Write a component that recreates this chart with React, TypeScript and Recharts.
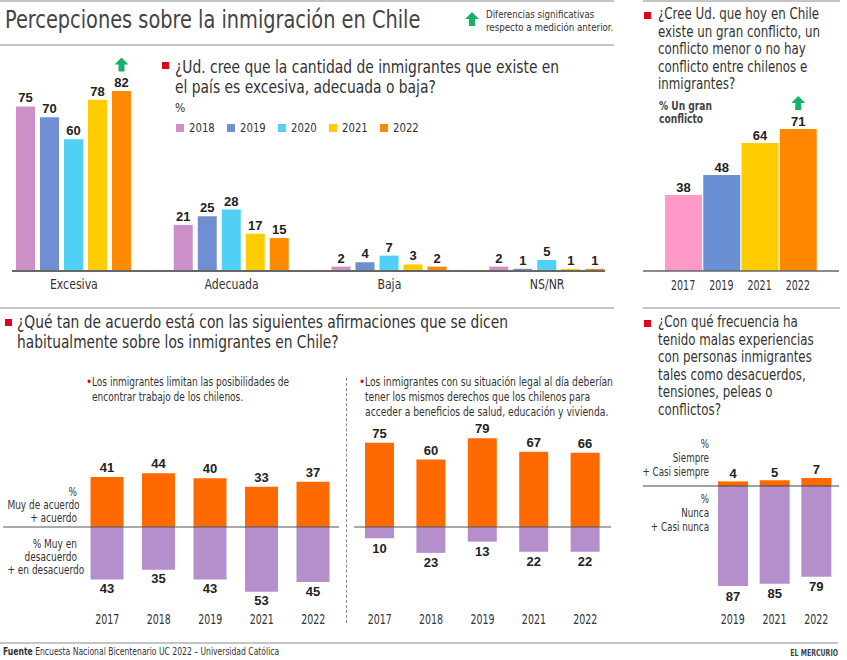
import React from 'react'
import { BarChart, Bar, XAxis, YAxis, Cell, LabelList, ReferenceLine } from 'recharts'

const NARROW = '"Liberation Sans Narrow", "Arial Narrow", "DejaVu Sans Condensed", sans-serif'
const NUM = '"Liberation Sans", Arial, sans-serif'
const RED = '#e3001b'
const GREEN = '#17b26a'
const INK = '#333'

// ¿Ud. cree que la cantidad de inmigrantes ... es excesiva, adecuada o baja?
const amountCategories = ['Excesiva', 'Adecuada', 'Baja', 'NS/NR']
const amountYears = ['2018', '2019', '2020', '2021', '2022']
const amountColors = ['#cc8fc7', '#6f8fd2', '#4fd0f4', '#ffcc00', '#ff8a00']
const amount2018 = [75, 21, 2, 2]
const amount2019 = [70, 25, 4, 1]
const amount2020 = [60, 28, 7, 5]
const amount2021 = [78, 17, 3, 1]
const amount2022 = [82, 15, 2, 1]
const amountSignificant = ['Excesiva'] // flecha verde, 2022

// % Un gran conflicto
const conflictYears = ['2017', '2019', '2021', '2022']
const conflictValues = [38, 48, 64, 71]
const conflictColors = ['#ff9ac8', '#6b8fd4', '#ffcc00', '#ff8800']
const conflictSignificant = ['2022']

// Los inmigrantes limitan las posibilidades de encontrar trabajo
const jobsYears = ['2017', '2018', '2019', '2021', '2022']
const jobsAgree = [41, 44, 40, 33, 37]
const jobsDisagree = [43, 35, 43, 53, 45]

// Mismos derechos con situación legal al día
const rightsYears = ['2017', '2018', '2019', '2021', '2022']
const rightsAgree = [75, 60, 79, 67, 66]
const rightsDisagree = [10, 23, 13, 22, 22]

// Malas experiencias con personas inmigrantes
const badYears = ['2019', '2021', '2022']
const badOften = [4, 5, 7]
const badNever = [87, 85, 79]

const AGREE = '#ff6a00'
const DISAGREE = '#b48fcc'

const amountSeries = [amount2018, amount2019, amount2020, amount2021, amount2022]
const amountData = amountCategories.map((category, i) => {
  const row: Record<string, string | number> = { category }
  amountYears.forEach((y, s) => (row[y] = amountSeries[s][i]))
  return row
})
const conflictData = conflictYears.map((year, i) => ({ year, value: conflictValues[i] }))
const splitData = (years: string[], up: number[], down: number[]) =>
  years.map((year, i) => ({ year, agree: up[i], disagree: -down[i] }))
const jobsData = splitData(jobsYears, jobsAgree, jobsDisagree)
const rightsData = splitData(rightsYears, rightsAgree, rightsDisagree)
const badData = splitData(badYears, badOften, badNever)

function Arrow({ x, y }: { x: number; y: number }) {
  return (
    <path
      d={`M${x},${y - 7} L${x + 7},${y} L${x + 3},${y} L${x + 3},${y + 7} L${x - 3},${y + 7} L${x - 3},${y} L${x - 7},${y} Z`}
      fill={GREEN}
    />
  )
}

// value label above positive bars, below negative ones; optional arrow
function makeLabel(above: number, below: number, flagged?: (i: number) => boolean) {
  return (props: any) => {
    const vb = props.viewBox ?? props
    const x = Number(vb.x ?? props.x)
    const y = Number(vb.y ?? props.y)
    const w = Number(vb.width ?? props.width)
    const h = Number(vb.height ?? props.height)
    const v = Number(props.value)
    const cx = x + w / 2
    const top = Math.min(y, y + h)
    const bottom = Math.max(y, y + h)
    const ty = v >= 0 ? top - above : bottom + below
    return (
      <g>
        <text x={cx} y={ty} textAnchor="middle" fontFamily={NUM} fontWeight={700} fontSize={13} fill="#222">
          {Math.abs(v)}
        </text>
        {flagged && flagged(props.index) ? <Arrow x={cx} y={ty - 22.5} /> : null}
      </g>
    )
  }
}

// condensed tick text
function narrowTick(size: number, sx: number) {
  return (p: any) => (
    <g transform={`translate(${p.x},${p.y})`}>
      <text transform={`scale(${sx},1)`} textAnchor="middle" dy="0.71em" fontFamily={NARROW} fontSize={size} fill={INK}>
        {p.payload.value}
      </text>
    </g>
  )
}

function Txt({ left, top, size, lh, sx = 1, right = false, children, style }: any) {
  return (
    <div
      style={{
        position: 'absolute',
        left,
        top,
        fontSize: size,
        lineHeight: `${lh}px`,
        color: INK,
        whiteSpace: 'nowrap',
        transform: `scaleX(${sx})`,
        transformOrigin: right ? 'right top' : 'left top',
        textAlign: right ? 'right' : 'left',
        ...style,
      }}
    >
      {children}
    </div>
  )
}

function Rule({ left, top, width, color = '#c4c4c4', thick = 2 }: any) {
  return <div style={{ position: 'absolute', left, top, width, height: thick, background: color }} />
}

function Square({ left, top }: { left: number; top: number }) {
  return <div style={{ position: 'absolute', left, top, width: 7, height: 7, background: RED }} />
}

export default function App() {
  return (
    <div style={{ position: 'absolute', left: 0, top: 0, width: 847, height: 660, background: '#fff', overflow: 'hidden', fontFamily: NARROW }}>
      {/* header */}
      <Rule left={0} top={0} width={614} />
      <Rule left={643} top={0} width={197} />
      <Txt left={5} top={6} size={25} lh={28} sx={0.86} style={{ color: '#444' }}>
        Percepciones sobre la inmigración en Chile
      </Txt>
      <svg style={{ position: 'absolute', left: 462, top: 10 }} width={20} height={20}>
        <Arrow x={10} y={9} />
      </svg>
      <Txt left={486} top={8} size={10.5} lh={13} sx={0.92}>
        Diferencias significativas
        <br />
        respecto a medición anterior.
      </Txt>
      <Rule left={0} top={44} width={614} />

      {/* cantidad de inmigrantes */}
      <Square left={162} top={62} />
      <Txt left={175} top={57} size={17.5} lh={20} sx={0.88}>
        ¿Ud. cree que la cantidad de inmigrantes que existe en
        <br />
        el país es excesiva, adecuada o baja?
      </Txt>
      <Txt left={175} top={101} size={12} lh={14}>%</Txt>
      <div style={{ position: 'absolute', left: 176, top: 120, display: 'flex', fontSize: 12.5, lineHeight: '16px', color: INK }}>
        {amountYears.map((y, i) => (
          <div key={y} style={{ display: 'flex', alignItems: 'center', width: 51 }}>
            <span style={{ width: 8, height: 8, background: amountColors[i], marginRight: 5 }} />
            <span style={{ display: 'inline-block', transform: 'scaleX(0.9)', transformOrigin: 'left center' }}>{y}</span>
          </div>
        ))}
      </div>
      <div style={{ position: 'absolute', left: -5, top: 40 }}>
        <BarChart width={631} height={267} data={amountData} margin={{ top: 11.5, right: 0, bottom: 0, left: 0 }} barSize={19} barGap={5}>
          <XAxis dataKey="category" axisLine={false} tickLine={false} tickSize={0} tickMargin={8} height={36} interval={0} tick={narrowTick(14, 0.87)} />
          <YAxis hide domain={[0, 100]} />
          {amountYears.map((y, i) => (
            <Bar key={y} dataKey={y} fill={amountColors[i]} isAnimationActive={false}>
              <LabelList
                dataKey={y}
                content={makeLabel(4, 14, i === amountYears.length - 1 ? (k) => amountSignificant.includes(amountCategories[k]) : undefined)}
              />
            </Bar>
          ))}
        </BarChart>
      </div>
      <Rule left={12} top={270} width={593} color="#666" thick={1.5} />

      {/* gran conflicto */}
      <Square left={644} top={12} />
      <Txt left={658} top={6} size={15.5} lh={17.6} sx={0.85}>
        ¿Cree Ud. que hoy en Chile
        <br />
        existe un gran conflicto, un
        <br />
        conflicto menor o no hay
        <br />
        conflicto entre chilenos e
        <br />
        inmigrantes?
      </Txt>
      <Txt left={659} top={99.5} size={11.5} lh={13} sx={0.88} style={{ fontWeight: 700, color: '#444' }}>
        % Un gran
        <br />
        conflicto
      </Txt>
      <div style={{ position: 'absolute', left: 643, top: 60 }}>
        <BarChart width={196} height={247} data={conflictData} margin={{ top: 11, right: 0, bottom: 0, left: 0 }} barSize={37}>
          <XAxis dataKey="year" axisLine={{ stroke: '#666', strokeWidth: 1.5 }} tickLine={false} tickSize={0} tickMargin={9} height={36} padding={{ left: 21, right: 22 }} tick={narrowTick(13.5, 0.78)} />
          <YAxis hide domain={[0, 100]} />
          <Bar dataKey="value" isAnimationActive={false}>
            {conflictData.map((d, i) => (
              <Cell key={d.year} fill={conflictColors[i]} />
            ))}
            <LabelList dataKey="value" content={makeLabel(3.5, 14, (k) => conflictSignificant.includes(conflictYears[k]))} />
          </Bar>
        </BarChart>
      </div>

      <Rule left={0} top={307} width={614} />
      <Rule left={643} top={307} width={197} />

      {/* acuerdo */}
      <Square left={5} top={319} />
      <Txt left={17} top={312} size={17.5} lh={20} sx={0.875}>
        ¿Qué tan de acuerdo está con las siguientes afirmaciones que se dicen
        <br />
        habitualmente sobre los inmigrantes en Chile?
      </Txt>
      <Txt left={86} top={374.5} size={11.5} lh={15} style={{ color: RED }}>•</Txt>
      <Txt left={92} top={374.5} size={11.5} lh={15} sx={0.87}>
        Los inmigrantes limitan las posibilidades de
        <br />
        encontrar trabajo de los chilenos.
      </Txt>
      <Txt left={359} top={374.5} size={11.5} lh={15} style={{ color: RED }}>•</Txt>
      <Txt left={365} top={374.5} size={11.5} lh={15} sx={0.89}>
        Los inmigrantes con su situación legal al día deberían
        <br />
        tener los mismos derechos que los chilenos para
        <br />
        acceder a beneficios de salud, educación y vivienda.
      </Txt>
      <div style={{ position: 'absolute', left: 346, top: 378, height: 245, borderLeft: '1px dashed #888' }} />

      <Txt left={-3} top={485.5} size={11.5} lh={13} sx={0.87} right style={{ width: 80 }}>
        %<br />Muy de acuerdo<br />+ acuerdo
      </Txt>
      <Txt left={-3} top={537.5} size={11.5} lh={13} sx={0.87} right style={{ width: 80 }}>
        % Muy en<br />desacuerdo<br />+ en desacuerdo
      </Txt>
      <div style={{ position: 'absolute', left: 3, top: 440 }}>
        <BarChart width={336} height={196.2} data={jobsData} stackOffset="sign" margin={{ top: 13.8, right: 0, bottom: 0, left: 0 }} barSize={33}>
          <XAxis dataKey="year" axisLine={false} tickLine={false} tickSize={0} tickMargin={14.2} height={36} padding={{ left: 78.5, right: 0 }} tick={narrowTick(13.5, 0.78)} />
          <YAxis hide domain={[-60, 60]} />
          <Bar dataKey="agree" stackId="s" fill={AGREE} isAnimationActive={false}>
            <LabelList dataKey="agree" content={makeLabel(5, 13.7)} />
          </Bar>
          <Bar dataKey="disagree" stackId="s" fill={DISAGREE} isAnimationActive={false}>
            <LabelList dataKey="disagree" content={makeLabel(5, 13.7)} />
          </Bar>
          <ReferenceLine y={0} stroke="#555" strokeWidth={1.2} />
        </BarChart>
      </div>

      <div style={{ position: 'absolute', left: 354, top: 420 }}>
        <BarChart width={257} height={210.5} data={rightsData} stackOffset="sign" margin={{ top: 17, right: 0, bottom: 0, left: 0 }} barSize={29}>
          <XAxis dataKey="year" axisLine={false} tickLine={false} tickSize={0} tickMargin={20} height={36} tick={narrowTick(13.5, 0.78)} />
          <YAxis hide domain={[-60, 80]} />
          <Bar dataKey="agree" stackId="s" fill={AGREE} isAnimationActive={false}>
            <LabelList dataKey="agree" content={makeLabel(5, 14.3)} />
          </Bar>
          <Bar dataKey="disagree" stackId="s" fill={DISAGREE} isAnimationActive={false}>
            <LabelList dataKey="disagree" content={makeLabel(5, 14.3)} />
          </Bar>
          <ReferenceLine y={0} stroke="#555" strokeWidth={1.2} />
        </BarChart>
      </div>

      {/* malas experiencias */}
      <Square left={644} top={320} />
      <Txt left={658} top={314} size={15.5} lh={17.6} sx={0.85}>
        ¿Con qué frecuencia ha
        <br />
        tenido malas experiencias
        <br />
        con personas inmigrantes
        <br />
        tales como desacuerdos,
        <br />
        tensiones, peleas o
        <br />
        conflictos?
      </Txt>
      <Txt left={619} top={437} size={12} lh={14} sx={0.81} right style={{ width: 90 }}>
        %<br />Siempre<br />+ Casi siempre
      </Txt>
      <Txt left={619} top={492} size={12} lh={14} sx={0.81} right style={{ width: 90 }}>
        %<br />Nunca<br />+ Casi nunca
      </Txt>
      <div style={{ position: 'absolute', left: 643, top: 450 }}>
        <BarChart width={196} height={187} data={badData} stackOffset="sign" margin={{ top: 13, right: 0, bottom: 0, left: 0 }} barSize={30}>
          <XAxis dataKey="year" axisLine={false} tickLine={false} tickSize={0} tickMargin={13.5} height={36} padding={{ left: 69, right: 2 }} tick={narrowTick(13.5, 0.78)} />
          <YAxis hide domain={[-100, 20]} />
          <Bar dataKey="agree" stackId="s" fill={AGREE} isAnimationActive={false}>
            <LabelList dataKey="agree" content={makeLabel(3.5, 14.5)} />
          </Bar>
          <Bar dataKey="disagree" stackId="s" fill={DISAGREE} isAnimationActive={false}>
            <LabelList dataKey="disagree" content={makeLabel(3.5, 14.5)} />
          </Bar>
          <ReferenceLine y={0} stroke="#444" strokeWidth={1.2} />
        </BarChart>
      </div>

      {/* footer */}
      <Rule left={0} top={642} width={838} />
      <Txt left={3} top={645} size={10} lh={13} sx={0.85}>
        <b>Fuente</b> Encuesta Nacional Bicentenario UC 2022 – Universidad Católica
      </Txt>
      <Txt left={700} top={647} size={9} lh={12} sx={0.77} right style={{ width: 138, fontWeight: 700, color: '#444' }}>
        EL MERCURIO
      </Txt>
    </div>
  )
}
